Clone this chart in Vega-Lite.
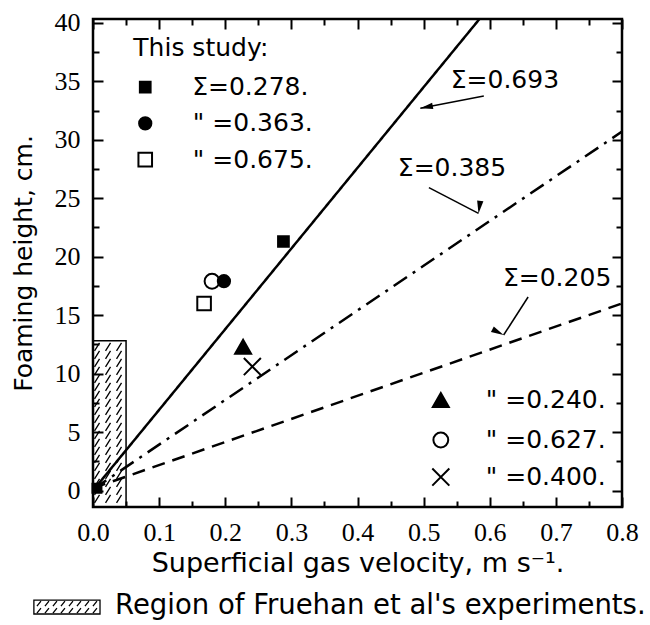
{
  "$schema": "https://vega.github.io/schema/vega-lite/v6.json",
  "width": 529,
  "height": 488,
  "autosize": {"type": "none"},
  "padding": {"left": 93, "top": 19, "right": 28, "bottom": 118},
  "background": "white",
  "config": {
    "view": {"stroke": "black", "strokeWidth": 2.5},
    "axis": {"grid": false, "domain": false, "tickColor": "black", "tickWidth": 2, "labelColor": "black", "titleColor": "black", "labelFlush": false, "labelOverlap": false, "labelFont": "Liberation Serif", "labelFontSize": 26}
  },
  "datasets": {
    "region": [{"x": 0, "x2": 0.05, "y": -1.41, "y2": 12.8}],
    "key": [{"x": -0.0894, "x2": 0.0106, "y": -9.37, "y2": -10.56}],
    "hatchplot": [{"x": 0.025, "y": 5.695}],
    "hatchkey": [{"x": -0.0394, "y": -9.97}],
    "lines": [
      {"series": "0.693", "x": 0, "y": 0},
      {"series": "0.693", "x": 0.6, "y": 41.4},
      {"series": "0.385", "x": 0, "y": 0.1},
      {"series": "0.385", "x": 0.8, "y": 30.7},
      {"series": "0.205", "x": 0, "y": 0.2},
      {"series": "0.205", "x": 0.8, "y": 16.0}
    ],
    "arrows": [
      {"id": "a1", "x": 0.591, "y": 33.75, "x2": 0.495, "y2": 32.7},
      {"id": "a2", "x": 0.508, "y": 25.9, "x2": 0.583, "y2": 23.7},
      {"id": "a3", "x": 0.658, "y": 16.55, "x2": 0.621, "y2": 13.3}
    ],
    "points": [
      {"sym": "dot", "x": 0.006, "y": 0.2},
      {"sym": "fsq", "x": 0.288, "y": 21.3},
      {"sym": "oci", "x": 0.18, "y": 17.9},
      {"sym": "fci", "x": 0.198, "y": 17.9},
      {"sym": "osq", "x": 0.168, "y": 16.0},
      {"sym": "tri", "x": 0.227, "y": 12.3},
      {"sym": "xx", "x": 0.241, "y": 10.6}
    ],
    "legpts": [
      {"sym": "fsq", "x": 0.079, "y": 34.5},
      {"sym": "fci", "x": 0.079, "y": 31.4},
      {"sym": "osq", "x": 0.079, "y": 28.3},
      {"sym": "tri", "x": 0.526, "y": 7.74},
      {"sym": "oci", "x": 0.526, "y": 4.32},
      {"sym": "xx", "x": 0.526, "y": 1.15}
    ],
    "notes": [
      {"label": "This study:", "x": 0.061, "y": 37.85},
      {"label": "Σ=0.278.", "x": 0.15, "y": 34.5},
      {"label": "\" =0.363.", "x": 0.151, "y": 31.4},
      {"label": "\" =0.675.", "x": 0.151, "y": 28.3},
      {"label": "\" =0.240.", "x": 0.594, "y": 7.74},
      {"label": "\" =0.627.", "x": 0.594, "y": 4.32},
      {"label": "\" =0.400.", "x": 0.594, "y": 1.15},
      {"label": "Σ=0.693", "x": 0.541, "y": 35.1},
      {"label": "Σ=0.385", "x": 0.461, "y": 27.6},
      {"label": "Σ=0.205", "x": 0.62, "y": 18.2}
    ],
    "keynote": [
      {"label": "Region of Fruehan et al's experiments.", "x": 0.0333, "y": -9.88}
    ]
  },
  "encoding": {
    "x": {"field": "x", "type": "quantitative", "scale": {"domain": [0, 0.8], "nice": false, "zero": false}, "axis": null},
    "y": {"field": "y", "type": "quantitative", "scale": {"domain": [-1.41, 40.33], "nice": false, "zero": false}, "axis": null}
  },
  "layer": [
    {
      "data": {"name": "region"},
      "mark": {"type": "rect", "filled": false, "stroke": "black", "strokeWidth": 1.5},
      "encoding": {
        "x": {"field": "x", "type": "quantitative", "scale": {"domain": [0, 0.8], "nice": false, "zero": false},
          "axis": {"orient": "bottom", "values": [0, 0.1, 0.2, 0.3, 0.4, 0.5, 0.6, 0.7, 0.8],
            "format": ".1f", "tickSize": -10,
            "labelFont": "Liberation Serif", "labelFontSize": 26, "labelPadding": 22,
            "title": "Superficial gas velocity, m s⁻¹.", "titleFont": "DejaVu Sans", "titleFontSize": 27, "titleFontWeight": "normal", "titlePadding": 5}},
        "x2": {"field": "x2"},
        "y": {"field": "y", "type": "quantitative", "scale": {"domain": [-1.41, 40.33], "nice": false, "zero": false},
          "axis": {"orient": "left", "values": [0, 5, 10, 15, 20, 25, 30, 35, 40],
            "format": "d", "tickSize": -10,
            "labelFont": "Liberation Serif", "labelFontSize": 26, "labelPadding": 23,
            "title": "Foaming height, cm.", "titleFont": "DejaVu Sans", "titleFontSize": 25, "titleFontWeight": "normal", "titlePadding": 18}},
        "y2": {"field": "y2"}
      }
    },
    {
      "data": {"name": "hatchplot"},
      "mark": {"type": "point", "filled": false, "stroke": "black", "strokeWidth": 1.3, "size": 4, "opacity": 1,
        "shape": "M-15,-73l5,-8M-4,-73l5,-8M7,-73l5,-8M-15,-65l5,-8M-4,-65l5,-8M7,-65l5,-8M-15,-57l5,-8M-4,-57l5,-8M7,-57l5,-8M-15,-49l5,-8M-4,-49l5,-8M7,-49l5,-8M-15,-41l5,-8M-4,-41l5,-8M7,-41l5,-8M-15,-33l5,-8M-4,-33l5,-8M7,-33l5,-8M-15,-25l5,-8M-4,-25l5,-8M7,-25l5,-8M-15,-17l5,-8M-4,-17l5,-8M7,-17l5,-8M-15,-9l5,-8M-4,-9l5,-8M7,-9l5,-8M-15,-1l5,-8M-4,-1l5,-8M7,-1l5,-8M-15,7l5,-8M-4,7l5,-8M7,7l5,-8M-15,15l5,-8M-4,15l5,-8M7,15l5,-8M-15,23l5,-8M-4,23l5,-8M7,23l5,-8M-15,31l5,-8M-4,31l5,-8M7,31l5,-8M-15,39l5,-8M-4,39l5,-8M7,39l5,-8M-15,47l5,-8M-4,47l5,-8M7,47l5,-8M-15,55l5,-8M-4,55l5,-8M7,55l5,-8M-15,63l5,-8M-4,63l5,-8M7,63l5,-8M-15,71l5,-8M-4,71l5,-8M7,71l5,-8M-15,79l5,-8M-4,79l5,-8M7,79l5,-8"},
      "encoding": {
        "x": {"field": "x", "type": "quantitative", "scale": {"domain": [0, 0.8], "nice": false, "zero": false},
          "axis": {"orient": "bottom", "values": [0.05, 0.15, 0.25, 0.35, 0.45, 0.55, 0.65, 0.75], "tickSize": -6, "labels": false, "title": null}},
        "y": {"field": "y", "type": "quantitative", "scale": {"domain": [-1.41, 40.33], "nice": false, "zero": false},
          "axis": {"orient": "left", "values": [2.5, 7.5, 12.5, 17.5, 22.5, 27.5, 32.5, 37.5], "tickSize": -6, "labels": false, "title": null}}
      }
    },
    {
      "data": {"name": "hatchkey"},
      "mark": {"type": "point", "filled": false, "stroke": "black", "strokeWidth": 1.3, "size": 4, "opacity": 1,
        "shape": "M-30,-1l4,-5M-22,-1l4,-5M-14,-1l4,-5M-6,-1l4,-5M2,-1l4,-5M10,-1l4,-5M18,-1l4,-5M26,-1l4,-5M-30,6l4,-5M-22,6l4,-5M-14,6l4,-5M-6,6l4,-5M2,6l4,-5M10,6l4,-5M18,6l4,-5M26,6l4,-5"},
      "encoding": {}
    },
    {
      "data": {"name": "key"},
      "mark": {"type": "rect", "filled": false, "stroke": "black", "strokeWidth": 1.3},
      "encoding": {"x2": {"field": "x2"}, "y2": {"field": "y2"}}
    },
    {
      "data": {"name": "lines"},
      "mark": {"type": "line", "clip": true, "strokeWidth": 2.5, "color": "black"},
      "encoding": {
        "x": {"field": "x", "type": "quantitative", "scale": {"domain": [0, 0.8], "nice": false, "zero": false},
          "axis": {"orient": "top", "values": [0, 0.05, 0.1, 0.15, 0.2, 0.25, 0.3, 0.35, 0.4, 0.45, 0.5, 0.55, 0.6, 0.65, 0.7, 0.75, 0.8],
            "labels": false, "title": null,
            "tickSize": {"condition": {"test": "round(datum.value*20)%2===0", "value": -10}, "value": -6}}},
        "y": {"field": "y", "type": "quantitative", "scale": {"domain": [-1.41, 40.33], "nice": false, "zero": false},
          "axis": {"orient": "right", "values": [0, 2.5, 5, 7.5, 10, 12.5, 15, 17.5, 20, 22.5, 25, 27.5, 30, 32.5, 35, 37.5, 40],
            "labels": false, "title": null,
            "tickSize": {"condition": {"test": "round(datum.value/2.5)%2===0", "value": -10}, "value": -6}}},
        "strokeDash": {"field": "series", "type": "nominal", "legend": null,
          "scale": {"domain": ["0.693", "0.385", "0.205"], "range": [[1, 0], [16, 7, 3, 7], [13, 8]]}}
      }
    },
    {
      "data": {"name": "arrows"},
      "mark": {"type": "rule", "strokeWidth": 1.5, "color": "black"},
      "encoding": {"x2": {"field": "x2"}, "y2": {"field": "y2"}}
    },
    {
      "data": {"name": "arrows"},
      "mark": {"type": "point", "shape": "M0,0L-0.4,1.6L0.4,1.6Z", "filled": true, "color": "black", "size": 250, "opacity": 1},
      "encoding": {
        "x": {"field": "x2", "type": "quantitative", "scale": {"domain": [0, 0.8], "nice": false, "zero": false}, "axis": null},
        "y": {"field": "y2", "type": "quantitative", "scale": {"domain": [-1.41, 40.33], "nice": false, "zero": false}, "axis": null},
        "angle": {"field": "id", "type": "nominal", "legend": null, "scale": {"domain": ["a1", "a2", "a3"], "range": [259, 117, 212]}}
      }
    },
    {
      "data": {"name": "points"},
      "mark": {"type": "point", "filled": true, "stroke": "black", "strokeWidth": 2, "opacity": 1},
      "encoding": {
        "shape": {"field": "sym", "type": "nominal", "legend": null,
          "scale": {"domain": ["dot", "fsq", "fci", "osq", "oci", "tri", "xx"], "range": ["square", "square", "circle", "square", "circle", "triangle-up", "M-1,-1L1,1M-1,1L1,-1"]}},
        "fill": {"field": "sym", "type": "nominal", "legend": null,
          "scale": {"domain": ["dot", "fsq", "fci", "osq", "oci", "tri", "xx"], "range": ["black", "black", "black", "white", "white", "black", "transparent"]}},
        "size": {"field": "sym", "type": "nominal", "legend": null,
          "scale": {"domain": ["dot", "fsq", "fci", "osq", "oci", "tri", "xx"], "range": [80, 290, 270, 230, 250, 420, 320]}}
      }
    },
    {
      "data": {"name": "legpts"},
      "mark": {"type": "point", "filled": true, "stroke": "black", "strokeWidth": 2, "opacity": 1},
      "encoding": {
        "shape": {"field": "sym", "type": "nominal", "legend": null,
          "scale": {"domain": ["dot", "fsq", "fci", "osq", "oci", "tri", "xx"], "range": ["square", "square", "circle", "square", "circle", "triangle-up", "M-1,-1L1,1M-1,1L1,-1"]}},
        "fill": {"field": "sym", "type": "nominal", "legend": null,
          "scale": {"domain": ["dot", "fsq", "fci", "osq", "oci", "tri", "xx"], "range": ["black", "black", "black", "white", "white", "black", "transparent"]}},
        "size": {"field": "sym", "type": "nominal", "legend": null,
          "scale": {"domain": ["dot", "fsq", "fci", "osq", "oci", "tri", "xx"], "range": [80, 290, 270, 230, 250, 420, 320]}}
      }
    },
    {
      "data": {"name": "notes"},
      "mark": {"type": "text", "align": "left", "baseline": "middle", "font": "DejaVu Sans", "fontSize": 25, "color": "black"},
      "encoding": {"text": {"field": "label", "type": "nominal"}}
    },
    {
      "data": {"name": "keynote"},
      "mark": {"type": "text", "align": "left", "baseline": "middle", "font": "DejaVu Sans", "fontSize": 27.5, "color": "black"},
      "encoding": {"text": {"field": "label", "type": "nominal"}}
    }
  ],
  "resolve": {"axis": {"x": "independent", "y": "independent"}}
}
